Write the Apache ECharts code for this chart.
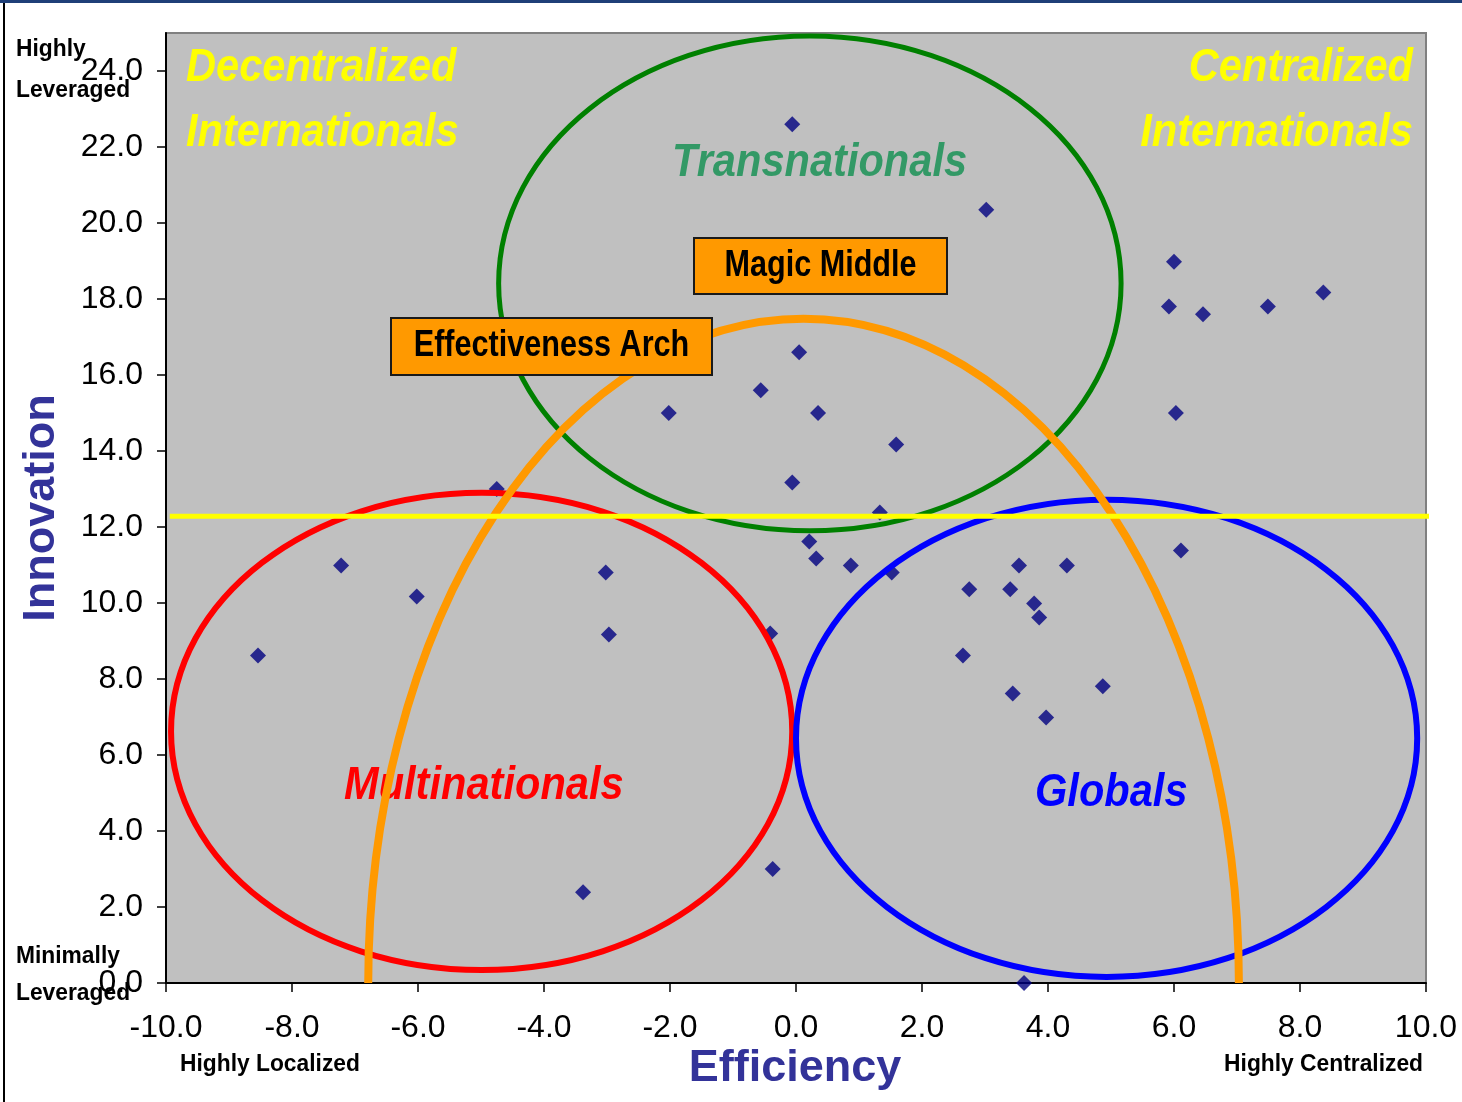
<!DOCTYPE html>
<html>
<head>
<meta charset="utf-8">
<script src="https://cdn.jsdelivr.net/npm/echarts@6/dist/echarts.min.js"></script>
<style>
  html, body { margin: 0; padding: 0; background: #fff; }
  #wrap { position: relative; width: 1462px; height: 1102px; overflow: hidden; }
  #topbar { position: absolute; left: 0; top: 0; width: 1462px; height: 3px; background: #1f3f78; }
  #leftline { position: absolute; left: 3px; top: 3px; width: 2px; height: 1099px; background: #000; }
  #chart { position: absolute; left: 0; top: 0; width: 1462px; height: 1102px; }
</style>
</head>
<body>
<div id="wrap">
  <div id="chart"></div>
  <div id="topbar"></div>
  <div id="leftline"></div>
</div>
<script>
// efficiency (x), innovation (y) for each company
const effValues = [
  -0.06, 3.02, 6.0, 5.92, 6.46, 7.49, 8.37, 0.05, -0.56, -2.02,
  0.35, 1.59, 6.03, -0.06, -4.75, 1.33, 0.21, 0.32, 0.87, 1.52,
  6.11, -7.22, -6.02, -3.02, -2.97, -8.54, -0.41, 2.75, 3.54, 3.40,
  3.78, 3.86, 4.30, 2.65, 3.44, 4.87, 3.97, -0.37, -3.38, 3.62
];
const innValues = [
  22.6, 20.35, 18.98, 17.8, 17.6, 17.8, 18.17, 16.6, 15.6, 15.0,
  15.0, 14.17, 15.0, 13.17, 13.0, 12.38, 11.62, 11.17, 10.99, 10.8,
  11.38, 10.99, 10.17, 10.8, 9.17, 8.62, 9.2, 10.36, 10.99, 10.36,
  9.99, 9.62, 10.99, 8.62, 7.62, 7.81, 6.99, 3.0, 2.39, 0.0
];

// group ellipses: [centerX, centerY, radiusX, radiusY]
const groupNames = ["Transnationals", "Multinationals", "Globals"];
const groupEllipses = [
  [0.22, 18.41, 4.94, 6.51],
  [-4.99, 6.62, 4.93, 6.28],
  [4.93, 6.44, 4.93, 6.28]
];
// effectiveness arch: upper half ellipse [centerX, centerY, radiusX, radiusY]
const archShape = [[0.12, 0, 6.91, 17.48]];
// yellow divider
const dividerX = [-9.94, 10.1];
const dividerY = 12.28;

const xTickValues = [-10, -8, -6, -4, -2, 0, 2, 4, 6, 8, 10];
const yTickValues = [0, 2, 4, 6, 8, 10, 12, 14, 16, 18, 20, 22, 24];
const yMax = 25;

const groupColors = ["#008000", "#ff0000", "#0000ff"];
const FONT = "'Liberation Sans', Arial, sans-serif";

const points = effValues.map((x, i) => [x, innValues[i]]);

const chart = echarts.init(document.getElementById("chart"));

function txt(text, x, y, size, color, opts) {
  opts = opts || {};
  return {
    type: "text",
    x: x,
    y: y,
    z: opts.z || 100,
    scaleX: opts.scaleX || 1,
    rotation: opts.rotation || 0,
    style: {
      text: text,
      font: (opts.italic ? "italic " : "") + "bold " + size + "px " + FONT,
      fill: color,
      align: opts.align || "left",
      verticalAlign: "middle"
    }
  };
}

function box(text, x, y, w, h) {
  return {
    type: "group",
    z: 100,
    children: [
      {
        type: "rect",
        z: 100,
        shape: { x: x, y: y, width: w, height: h },
        style: { fill: "#ff9900", stroke: "#1a1a1a", lineWidth: 2 }
      },
      {
        type: "text",
        z: 101,
        x: x + w / 2,
        y: y + h / 2,
        scaleX: 0.85,
        style: {
          text: text,
          font: "bold 36px " + FONT,
          fill: "#000",
          align: "center",
          verticalAlign: "middle"
        }
      }
    ]
  };
}

const SX = 0.885;
const SS = 0.95;

const axisCommon = {
  type: "value",
  splitLine: { show: false },
  axisLine: { onZero: false, lineStyle: { color: "#000", width: 2 } },
  axisTick: { length: 9, lineStyle: { color: "#000", width: 1.5 } }
};

chart.setOption({
  animation: false,
  grid: {
    left: 166,
    top: 33,
    right: 36,
    bottom: 119,
    show: true,
    backgroundColor: "#c0c0c0",
    borderColor: "#808080",
    borderWidth: 2
  },
  xAxis: Object.assign({}, axisCommon, {
    min: xTickValues[0],
    max: xTickValues[xTickValues.length - 1],
    interval: 2,
    axisLabel: {
      margin: 29,
      fontSize: 32,
      fontFamily: FONT,
      color: "#000",
      formatter: (v) => v.toFixed(1)
    }
  }),
  yAxis: Object.assign({}, axisCommon, {
    min: 0,
    max: yMax,
    interval: 2,
    axisTick: {
      length: 9,
      customValues: yTickValues,
      lineStyle: { color: "#000", width: 1.5 }
    },
    axisLabel: {
      margin: 23,
      fontSize: 32,
      fontFamily: FONT,
      color: "#000",
      customValues: yTickValues,
      formatter: (v) => Number(v).toFixed(1)
    }
  }),
  series: [
    {
      type: "scatter",
      z: 2,
      symbol: "diamond",
      symbolSize: 16,
      itemStyle: { color: "#000080" },
      data: points
    },
    {
      type: "custom",
      z: 3,
      clip: false,
      data: groupEllipses,
      renderItem(params, api) {
        const c = api.coord([api.value(0), api.value(1)]);
        const s = api.size([api.value(2), api.value(3)]);
        return {
          type: "ellipse",
          shape: { cx: c[0], cy: c[1], rx: s[0], ry: s[1] },
          style: {
            fill: null,
            stroke: groupColors[params.dataIndex],
            lineWidth: params.dataIndex === 0 ? 5 : 6
          }
        };
      }
    },
    {
      type: "custom",
      z: 4,
      clip: false,
      data: archShape,
      renderItem(params, api) {
        const c = api.coord([api.value(0), api.value(1)]);
        const s = api.size([api.value(2), api.value(3)]);
        const d = "M " + (c[0] - s[0]) + " " + c[1] +
          " A " + s[0] + " " + s[1] + " 0 0 1 " + (c[0] + s[0]) + " " + c[1];
        return {
          type: "path",
          shape: { pathData: d },
          style: { fill: null, stroke: "#ff9900", lineWidth: 8 }
        };
      }
    },
    {
      type: "line",
      z: 5,
      clip: false,
      symbol: "none",
      lineStyle: { color: "#ffff00", width: 5 },
      data: dividerX.map((x) => [x, dividerY])
    }
  ],
  graphic: [
    txt("Decentralized", 186, 68, 47, "#ffff00", { italic: true, scaleX: SX }),
    txt("Internationals", 186, 133, 47, "#ffff00", { italic: true, scaleX: SX }),
    txt("Centralized", 1413, 68, 47, "#ffff00", { italic: true, scaleX: SX, align: "right" }),
    txt("Internationals", 1413, 133, 47, "#ffff00", { italic: true, scaleX: SX, align: "right" }),
    txt(groupNames[0], 672, 163, 47, "#339966", { italic: true, scaleX: SX }),
    txt(groupNames[1], 344, 786, 47, "#ff0000", { italic: true, scaleX: SX, z: 2 }),
    txt(groupNames[2], 1035, 793, 47, "#0000ff", { italic: true, scaleX: SX }),
    box("Magic Middle", 694, 238, 253, 56),
    box("Effectiveness Arch", 391, 318, 321, 57),
    txt("Highly", 16, 49, 24, "#000", { scaleX: SS }),
    txt("Leveraged", 16, 90, 24, "#000", { scaleX: SS }),
    txt("Minimally", 16, 956, 24, "#000", { scaleX: SS }),
    txt("Leveraged", 16, 993, 24, "#000", { scaleX: SS }),
    txt("Highly Localized", 180, 1064, 24, "#000", { scaleX: SS }),
    txt("Highly Centralized", 1423, 1064, 24, "#000", { scaleX: SS, align: "right" }),
    txt("Innovation", 42, 508, 45, "#333399", { rotation: Math.PI / 2, align: "center" }),
    txt("Efficiency", 795, 1069, 45, "#333399", { align: "center" })
  ]
});
</script>
</body>
</html>
